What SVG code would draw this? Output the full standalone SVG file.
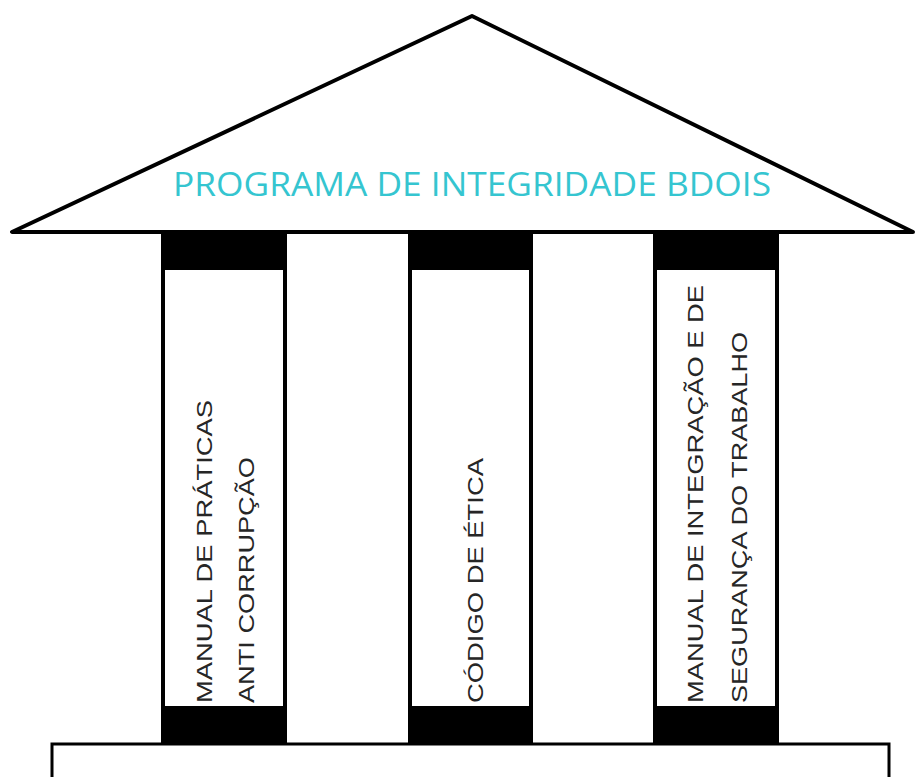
<svg xmlns="http://www.w3.org/2000/svg" width="918" height="777" viewBox="0 0 918 777">
<style>
.pillar-outer{fill:#000;}
.pillar-inner{fill:#fff;}
.lbl{font-family:"Liberation Sans",Arial,sans-serif;font-size:22px;fill:#262626;}
.title{font-family:"Open Sans","Noto Sans",sans-serif;font-size:32px;fill:#35C5D0;}
</style>
<rect x="0" y="0" width="918" height="777" fill="#fff"/>
<g id="roof">
<polygon points="472,16 12,232 913,232" fill="#fff" stroke="#000" stroke-width="4" stroke-linejoin="round"/>
<text class="title" x="472" y="196" text-anchor="middle" textLength="598" lengthAdjust="spacingAndGlyphs">PROGRAMA DE INTEGRIDADE BDOIS</text>
</g>
<g id="pillar-left">
<rect class="pillar-outer" x="161" y="233" width="126" height="511"/>
<rect class="pillar-inner" x="165" y="270" width="118" height="436"/>
<text class="lbl" transform="translate(212,703) rotate(-90)" textLength="303" lengthAdjust="spacingAndGlyphs">MANUAL DE PRÁTICAS</text>
<text class="lbl" transform="translate(254,703) rotate(-90)" textLength="246" lengthAdjust="spacingAndGlyphs">ANTI CORRUPÇÃO</text>
</g>
<g id="pillar-middle">
<rect class="pillar-outer" x="408" y="233" width="125" height="511"/>
<rect class="pillar-inner" x="412" y="270" width="117" height="436"/>
<text class="lbl" transform="translate(483,703) rotate(-90)" textLength="245" lengthAdjust="spacingAndGlyphs">CÓDIGO DE ÉTICA</text>
</g>
<g id="pillar-right">
<rect class="pillar-outer" x="653" y="233" width="126" height="511"/>
<rect class="pillar-inner" x="657" y="270" width="118" height="436"/>
<text class="lbl" transform="translate(703,703) rotate(-90)" textLength="418" lengthAdjust="spacingAndGlyphs">MANUAL DE INTEGRAÇÃO E DE</text>
<text class="lbl" transform="translate(747,703) rotate(-90)" textLength="371" lengthAdjust="spacingAndGlyphs">SEGURANÇA DO TRABALHO</text>
</g>
<g id="base">
<rect x="52" y="744" width="837" height="40" fill="#fff" stroke="#000" stroke-width="3"/>
</g>
<g id="connectors"></g>
</svg>
